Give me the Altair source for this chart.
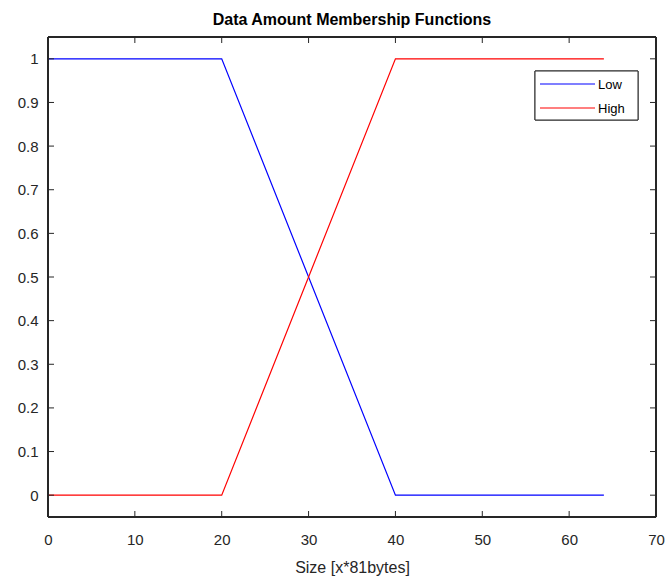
import altair as alt
import pandas as pd

x_vals = [0, 20, 40, 64]
low_vals = [1, 1, 0, 0]
high_vals = [0, 0, 1, 1]
series = ["Low", "High"]
colors = ["#0000FF", "#FF0000"]
x_ticks = [0, 10, 20, 30, 40, 50, 60, 70]
y_ticks = [0, 0.1, 0.2, 0.3, 0.4, 0.5, 0.6, 0.7, 0.8, 0.9, 1.0]

rows = []
for i, xv in enumerate(x_vals):
    rows.append({"x": xv, "y": low_vals[i], "s": "Low", "o": i})
for i, xv in enumerate(x_vals):
    rows.append({"x": xv, "y": high_vals[i], "s": "High", "o": i})
df = pd.DataFrame(rows)
xt = pd.DataFrame({"x": x_ticks})
yt = pd.DataFrame({"y": y_ticks})

W, H = 608, 480
FONT = "Liberation Sans"
AX = "#262626"

xscale = alt.Scale(domain=[0, 70], nice=False, zero=False)
yscale = alt.Scale(domain=[-0.05, 1.05], nice=False, zero=False)

xaxis = alt.Axis(values=x_ticks, ticks=False, grid=False, domain=False, labelFlush=False,
                 labelFontSize=15, labelColor=AX, labelPadding=15,
                 titleFontSize=16, titleFontWeight="normal", titleColor=AX,
                 titlePadding=12, labelFont=FONT, titleFont=FONT)
yaxis = alt.Axis(values=y_ticks, format=".1~f", ticks=False, grid=False, domain=False,
                 labelFontSize=15, labelColor=AX, labelPadding=10, labelFont=FONT)

lines = alt.Chart(df).mark_line(strokeWidth=1.2).encode(
    x=alt.X("x:Q", scale=xscale, title="Size [x*81bytes]", axis=xaxis),
    y=alt.Y("y:Q", scale=yscale, title=None, axis=yaxis),
    color=alt.Color("s:N", sort=series,
                    scale=alt.Scale(domain=series, range=colors), legend=None),
    order="o:Q",
)

frame = alt.Chart(xt).mark_rect(fill=None, stroke=AX, strokeWidth=1).encode(
    x=alt.value(0), x2=alt.value(W), y=alt.value(0), y2=alt.value(H))

tb = alt.Chart(xt).mark_rule(color=AX, strokeWidth=1).encode(
    x=alt.X("x:Q", scale=xscale, title="Size [x*81bytes]", axis=xaxis), y=alt.value(H), y2=alt.value(H - 6))
tt = alt.Chart(xt).mark_rule(color=AX, strokeWidth=1).encode(
    x=alt.X("x:Q", scale=xscale, title="Size [x*81bytes]", axis=xaxis), y=alt.value(0), y2=alt.value(6))
tl = alt.Chart(yt).mark_rule(color=AX, strokeWidth=1).encode(
    y=alt.Y("y:Q", scale=yscale, title=None, axis=yaxis), x=alt.value(0), x2=alt.value(6))
tr = alt.Chart(yt).mark_rule(color=AX, strokeWidth=1).encode(
    y=alt.Y("y:Q", scale=yscale, title=None, axis=yaxis), x=alt.value(W), x2=alt.value(W - 6))

# legend (manual, MATLAB style)
leg_df = pd.DataFrame({"s": series})
LX0, LX1, LY0, LY1 = 487, 590, 34, 83
leg_box = alt.Chart(leg_df).mark_rect(fill="white", stroke=AX, strokeWidth=1).encode(
    x=alt.value(LX0), x2=alt.value(LX1), y=alt.value(LY0), y2=alt.value(LY1))
leg_layers = [leg_box]
for i, (name, col) in enumerate(zip(series, colors)):
    yy = 47 + 24 * i
    d = pd.DataFrame({"s": [name]})
    leg_layers.append(alt.Chart(d).mark_rule(color=col, strokeWidth=1.2).encode(
        x=alt.value(492), x2=alt.value(547), y=alt.value(yy)))
    leg_layers.append(alt.Chart(d).mark_text(align="left", baseline="middle", font=FONT,
                                             fontSize=13, color="#000000").encode(
        x=alt.value(550), y=alt.value(yy + 1), text="s:N"))

chart = alt.layer(lines, tb, tt, tl, tr, frame, *leg_layers).properties(
    width=W, height=H,
    title=alt.TitleParams("Data Amount Membership Functions", fontSize=16, font=FONT,
                          fontWeight="bold", color="#000000", offset=9),
    autosize=alt.AutoSizeParams(type="none"),
    padding={"left": 48, "top": 37, "right": 12, "bottom": 62},
).configure_view(stroke=None).configure(background="white")

chart.save("out.html", embed_options={"renderer": "svg", "actions": False})
